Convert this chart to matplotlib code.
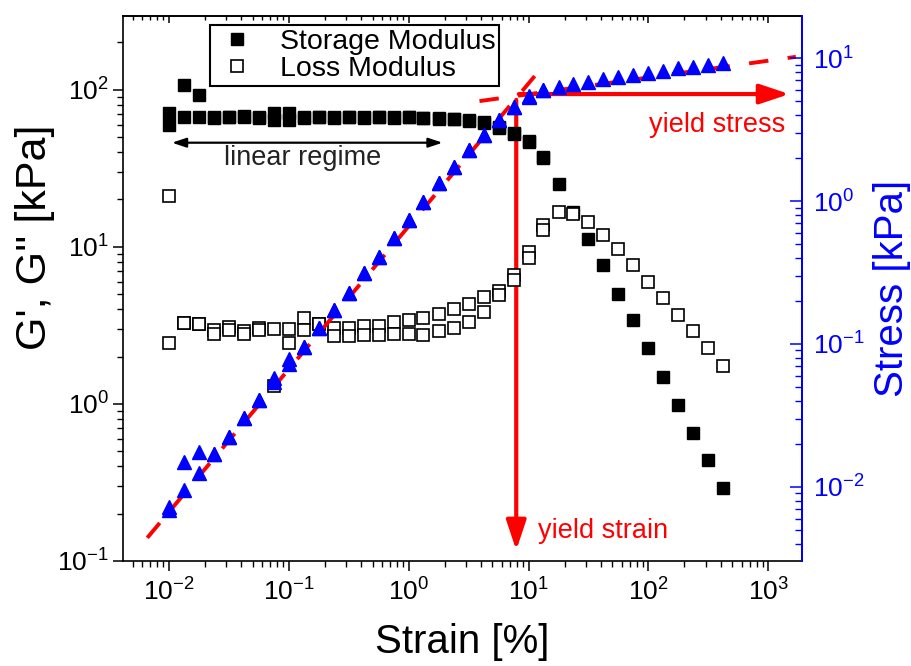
import matplotlib
matplotlib.use("Agg")
import matplotlib.pyplot as plt

plt.rcParams['font.family'] = ['Liberation Sans', 'DejaVu Sans']
plt.rcParams['mathtext.default'] = 'regular'
plt.rcParams['axes.unicode_minus'] = False

# strain sweep (%), run 1 is the full sweep, run 2 a repeat up to ~13 %
strain_1 = [0.01, 0.0133, 0.0178, 0.0237, 0.0316, 0.0422, 0.0562, 0.075, 0.1, 0.133,
            0.178, 0.237, 0.316, 0.422, 0.562, 0.75, 1.0, 1.33, 1.78, 2.37,
            3.16, 4.22, 5.62, 7.5, 10.0, 13.3, 17.8, 23.7, 31.6, 42.2,
            56.2, 75.0, 100.0, 133.0, 178.0, 237.0, 316.0, 422.0]
storage_1 = [60, 108, 93, 67, 67, 68, 66, 71, 71, 67,
             67, 67, 67, 67, 67, 67, 67, 66, 66, 65,
             64, 62.5, 57, 53, 46.6, 37.4, 25.2, 16.7, 11.2, 7.6,
             5.0, 3.4, 2.25, 1.49, 0.98, 0.65, 0.44, 0.29]
loss_1 = [2.45, 3.28, 3.2, 2.97, 3.1, 2.9, 3.05, 3.0, 3.0, 3.5,
          3.2, 3.05, 3.05, 3.15, 3.15, 3.3, 3.4, 3.5, 3.75, 4.0,
          4.3, 4.8, 5.2, 6.6, 9.3, 13.7, 16.7, 16.2, 14.3, 11.9,
          9.7, 7.7, 6.0, 4.7, 3.7, 2.9, 2.25, 1.75]
stress_1 = [0.0069, 0.0095, 0.0125, 0.017, 0.0224, 0.0304, 0.0406, 0.054, 0.072, 0.095,
            0.129, 0.173, 0.228, 0.314, 0.406, 0.55, 0.736, 0.98, 1.34, 1.73,
            2.28, 2.9, 3.68, 4.54, 5.4, 6.0, 6.27, 6.58, 6.8, 7.1,
            7.36, 7.6, 7.85, 8.1, 8.5, 8.6, 8.9, 9.2]

strain_2 = strain_1[:26]
storage_2 = [71, 67, 67, 66, 67, 67, 67, 64, 64, 66,
             67, 66, 67, 66, 67, 66, 67, 66, 65, 65,
             63, 61, 58, 52, 47, 37]
loss_2 = [21.1, 3.28, 3.2, 2.8, 2.95, 2.8, 2.95, 1.29, 2.45, 2.96,
          3.2, 2.7, 2.7, 2.75, 2.75, 2.8, 2.8, 2.75, 2.9, 3.05,
          3.3, 3.85, 4.9, 6.1, 8.5, 12.8]
stress_2 = [0.0072, 0.015, 0.0176, 0.017, 0.0224, 0.0304, 0.0406, 0.058, 0.078, 0.095,
            0.129, 0.173, 0.228, 0.314, 0.406, 0.55, 0.736, 0.98, 1.34, 1.73,
            2.28, 2.9, 3.68, 4.54, 5.3, 5.97]

# fitted lines (stress vs strain) and yield point
fit_linear_strain = [0.0066, 14.0]
fit_linear_stress = [0.0044, 9.3]
fit_flow_strain = [3.9, 1700.0]
fit_flow_stress = [5.0, 10.2]
yield_strain = 7.9
yield_stress = 5.6

BLUE = '#0000FF'
RED = '#FF0000'

fig = plt.figure(figsize=(9.11, 6.66), dpi=100)
ax1 = fig.add_axes([0.135, 0.158, 0.745, 0.818])
ax2 = ax1.twinx()

ax1.set_xscale('log')
ax1.set_yscale('log')
ax2.set_yscale('log')
ax1.set_xlim(0.00414, 1900)
ax1.set_ylim(0.1, 295)
ax2.set_ylim(0.00304, 19.7)

# moduli
h_sto, = ax1.plot(strain_1, storage_1, 's', color='black', ms=8.5, zorder=3, label='Storage Modulus')
ax1.plot(strain_2, storage_2, 's', color='black', ms=8.5, zorder=3)
h_loss, = ax1.plot(strain_1, loss_1, 's', mfc='white', mec='black', mew=1.2, ms=8, zorder=3,
                   label='Loss Modulus')
ax1.plot(strain_2, loss_2, 's', mfc='white', mec='black', mew=1.2, ms=8, zorder=3)

# yield arrows (drawn below the markers)
arrow_kw = dict(arrowstyle='-|>,head_length=0.9,head_width=0.3', color=RED, lw=3,
                mutation_scale=20, shrinkA=0, shrinkB=0)
ax1.annotate('', xy=(yield_strain, 0.0036), xytext=(yield_strain, 5.1),
             xycoords=ax2.transData, textcoords=ax2.transData, arrowprops=arrow_kw, zorder=1)
ax1.annotate('', xy=(1500, yield_stress), xytext=(8.3, yield_stress),
             xycoords=ax2.transData, textcoords=ax2.transData, arrowprops=arrow_kw, zorder=1)

# linear regime arrow
ax1.annotate('', xy=(0.0106, 46), xytext=(1.92, 46),
             arrowprops=dict(arrowstyle='<|-|>,head_length=0.6,head_width=0.2', color='black',
                             lw=1.6, mutation_scale=14, shrinkA=0, shrinkB=0))
ax1.text(0.131, 37, 'linear regime', fontsize=19.5, color='#222222', ha='center', va='center')

# stress (right axis)
ax2.plot(fit_linear_strain, fit_linear_stress, color=RED, lw=2.8, ls=(0, (5, 5)), zorder=1)
ax2.plot(fit_flow_strain, fit_flow_stress, color=RED, lw=2.8, ls=(0, (5, 5)), zorder=1)
ax2.plot(strain_1, stress_1, '^', color=BLUE, ms=10.5, zorder=3)
ax2.plot(strain_2, stress_2, '^', color=BLUE, ms=10.5, zorder=3)

ax2.text(376, 3.4, 'yield stress', fontsize=19.5, color=RED, ha='center', va='center')
ax2.text(11.9, 0.0049, 'yield strain', fontsize=19.5, color=RED, ha='left', va='center')

# legend
leg = ax1.legend(handles=[h_sto, h_loss], loc='upper left', bbox_to_anchor=(0.128, 0.983),
                 borderaxespad=0, fontsize=20.5, frameon=True, fancybox=False,
                 edgecolor='black', framealpha=1, borderpad=0.12, handlelength=1.7,
                 handletextpad=0.65, labelspacing=0.05)
leg.get_frame().set_linewidth(1.5)

# axes styling
for sp in ax1.spines.values():
    sp.set_linewidth(1.2)
for sp in ['left', 'top', 'bottom']:
    ax2.spines[sp].set_visible(False)
ax2.spines['right'].set_color(BLUE)
ax2.spines['right'].set_linewidth(1.4)

ax1.tick_params(axis='x', which='major', direction='out', length=7, width=1.1,
                labelsize=19, pad=6, top=False)
ax1.tick_params(axis='x', which='minor', direction='out', length=4, width=1.0, top=False)
ax1.tick_params(axis='y', which='major', direction='out', length=7, width=1.1,
                labelsize=19, pad=3, right=False)
ax1.tick_params(axis='y', which='minor', direction='out', length=4, width=1.0, right=False)

top = ax1.secondary_xaxis('top')
top.tick_params(which='major', direction='in', length=5, width=1.1, labeltop=False)
top.tick_params(which='minor', direction='in', length=3, width=1.0)
top.spines['top'].set_linewidth(1.2)

ax2.tick_params(axis='y', which='major', direction='in', length=9, width=1.1, colors=BLUE,
                labelsize=19, pad=8)
ax2.tick_params(axis='y', which='minor', direction='in', length=5, width=1.0, colors=BLUE)

ax1.set_xlabel('Strain [%]', fontsize=29, labelpad=12)
ax1.set_ylabel("G', G'' [kPa]", fontsize=31)
ax1.yaxis.set_label_coords(-0.100, 0.593)
ax2.set_ylabel('Stress [kPa]', fontsize=29, color=BLUE, labelpad=6)

fig.savefig('out.png', dpi=100)
